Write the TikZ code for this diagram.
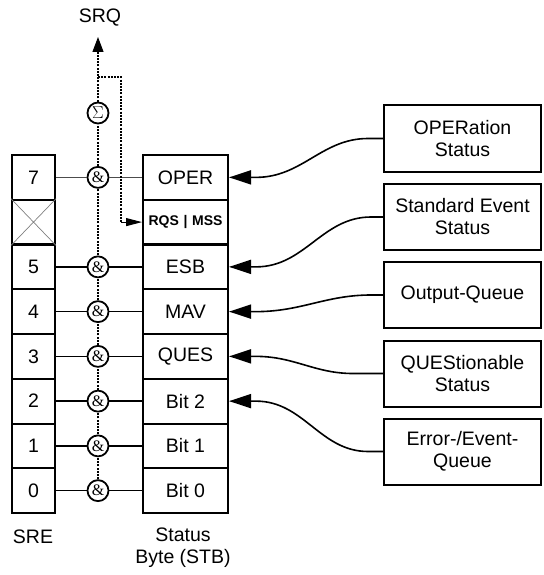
\documentclass[tikz,border=0pt]{standalone}
\usepackage{fontspec}
\setmainfont{Liberation Sans}
\newfontfamily\serf{Liberation Serif}
\usetikzlibrary{arrows.meta,calc}
\begin{document}
\begin{tikzpicture}[x=1pt,y=-1pt,
  every node/.style={inner sep=0pt, font=\fontsize{19.5}{22}\selectfont},
  cell/.style={draw, line width=2pt, minimum height=44.75pt},
  srecell/.style={cell, minimum width=43pt},
  stbcell/.style={cell, minimum width=85pt},
  gate/.style={circle, draw, line width=1.8pt, fill=white, minimum size=21pt,
               font=\serf\fontsize{16}{16}\selectfont},
  link/.style={line width=1.6pt},
  dotline/.style={line width=2.3pt, dash pattern=on 2pt off 1.2pt},
  srcbox/.style={draw, line width=2pt, minimum width=157pt, minimum height=66pt,
                 align=center},
  feed/.style={line width=1.6pt, -{Triangle[length=22pt,width=14pt]}},
]
\useasboundingbox (0,0) rectangle (543,575);

% register rows: index / SRE bit / STB label
\foreach \r/\b/\t in {0/7/OPER, 2/5/ESB, 3/4/MAV, 4/3/QUES, 5/2/Bit 2, 6/1/Bit 1, 7/0/Bit 0}{
  \node[srecell] (sre\r) at (33.5, 155+44.75*\r+22.375) {\b};
  \node[stbcell] (stb\r) at (185.5, 155+44.75*\r+22.375) {\t};
  \node[gate] (and\r) at (98, 155+44.75*\r+22.375) {\&};
}
% reserved bit 6
\node[srecell] (sre1) at (33.5, 222.1) {};
\draw[gray, line width=0.7pt] (sre1.north west) -- (sre1.south east)
                               (sre1.north east) -- (sre1.south west);
\node[stbcell, font=\bfseries\fontsize{14}{14}\selectfont] (stb1) at (185.5, 222.1) {RQS\,\,|\,\,MSS};

% enable AND links
\draw[black!70, line width=1pt] (sre0) -- (and0) -- (stb0);
\foreach \r in {2,...,7}{
  \draw[link] (sre\r) -- (and\r) -- (stb\r);
}

% summing gate and service request
\node[gate] (sum) at (98,113) {$\Sigma$};
\node (srq) at (100,18) {SRQ};
\coordinate (srqbase) at (98,52);
\coordinate (srqtip) at (98,37);
\coordinate (br) at (98,77);
\coordinate (brc) at (121,77);
\coordinate (brd) at (121,222.1);

\draw[dotline] (and7) -- (and6);
\draw[dotline] (and6) -- (and5);
\draw[dotline] (and5) -- (and4);
\draw[dotline] (and4) -- (and3);
\draw[dotline] (and3) -- (and2);
\draw[dotline] (and2) -- (and0);
\draw[dotline] (and0) -- (sum);
\draw[dotline] (sum) -- (srqbase);
\draw[line width=1pt, -{Triangle[length=15pt,width=11pt]}] (srqbase) -- (srqtip);
\draw[dotline] (br) -- (brc) -- (brd);
\draw[line width=1pt, -{Triangle[length=16pt,width=8pt]}] (brd) -- (stb1.west);

% event sources
\node[srcbox] (oper) at (462.5,138.5) {OPERation\\Status};
\node[srcbox] (esr)  at (462.5,217)   {Standard Event\\Status};
\node[srcbox] (outq) at (462.5,295)   {Output-Queue};
\node[srcbox] (ques) at (462.5,373.5) {QUEStionable\\Status};
\node[srcbox] (errq) at (462.5,451.5) {Error-/Event-\\Queue};

\draw[feed] (oper.west) -- ++(-15,0) to[out=180,in=0] ($(stb0.east)+(27,0)$) -- (stb0.east);
\draw[feed] (esr.west)  -- ++(-12,0) to[out=180,in=0] ($(stb2.east)+(27,0)$) -- (stb2.east);
\draw[feed] (outq.west) -- ++(-12,0) to[out=180,in=0] ($(stb3.east)+(27,0)$) -- (stb3.east);
\draw[feed] (ques.west) -- ++(-30,0) to[out=180,in=0] ($(stb4.east)+(27,0)$) -- (stb4.east);
\draw[feed] (errq.west) -- ++(-15,0) to[out=180,in=0] ($(stb5.east)+(27,0)$) -- (stb5.east);

% captions
\node (sre) at (33,537) {SRE};
\node[align=center] (stb) at (183,548) {Status\\Byte (STB)};
\end{tikzpicture}
\end{document}
